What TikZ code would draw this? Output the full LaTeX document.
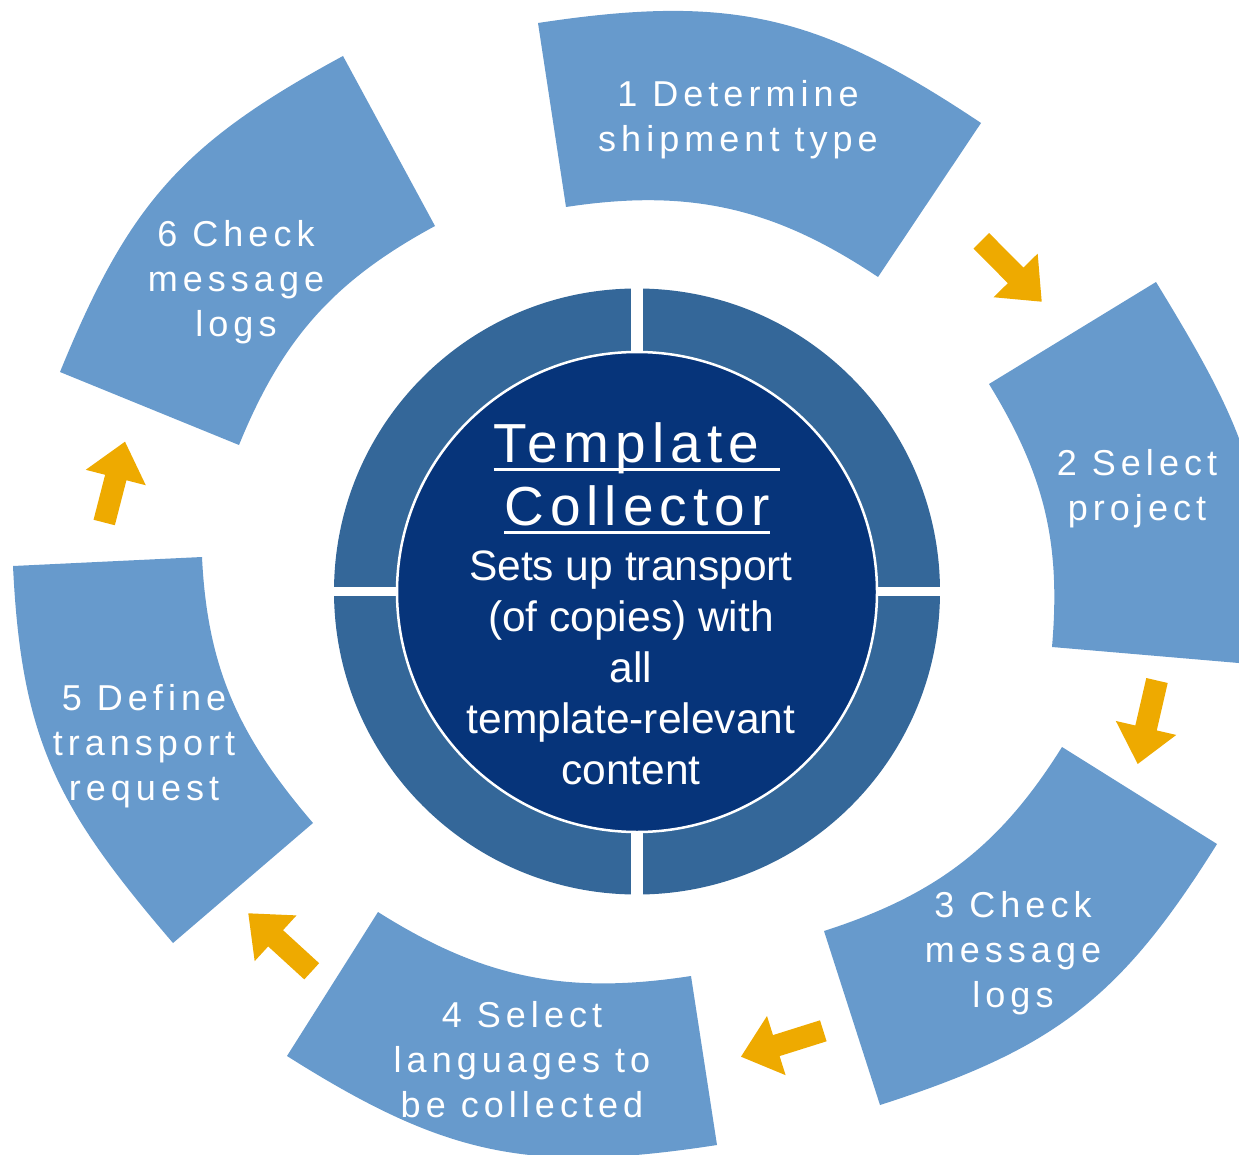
\documentclass[tikz,border=0pt]{standalone}
\usepackage{fontspec}
\setmainfont{Liberation Sans}
\newfontfamily\segfont[LetterSpace=14]{Liberation Sans}
\newfontfamily\titlefont[LetterSpace=11]{Liberation Sans}
\usetikzlibrary{calc}
\definecolor{segc}{RGB}{103,154,204}
\definecolor{ringc}{RGB}{52,103,153}
\definecolor{innerc}{RGB}{6,52,122}
\definecolor{arrowc}{RGB}{238,170,0}
\newcommand{\linestack}[1]{\vtop{\halign{\hfil##\hfil\cr#1\crcr}}}
\newcommand{\ulword}[1]{\setbox0=\hbox{#1}\rlap{\rule[-9pt]{\wd0}{3pt}}\box0}
\newcommand{\segshape}[4]{%
  \fill[segc] let \p1=($(#2)-(#1)$), \p2=($(#3)-(#4)$),
    \n1={atan2(\y1,\x1)-90}, \n2={atan2(\y2,\x2)+90} in
    (#1) -- (#2) to[out=\n1, in=\n2, looseness=1.1] (#3) -- (#4)
    to[out=\n2, in=\n1] (#1) -- cycle;}
\newcommand{\blockarrow}[2]{%
  \coordinate (#2h) at ($(#2)!37pt!(#1)$);
  \fill[arrowc] ($(#1)!11pt!90:(#2)$) -- ($(#2h)!11pt!90:(#2)$)
    -- ($(#2h)!31pt!90:(#2)$) -- (#2) -- ($(#2h)!31pt!-90:(#2)$)
    -- ($(#2h)!11pt!-90:(#2)$) -- ($(#1)!11pt!-90:(#2)$) -- cycle;}
\tikzset{
  segtext/.style={text=white, font=\segfont\fontsize{36}{45}\selectfont, anchor=base, inner sep=0pt},
  titletext/.style={text=white, font=\titlefont\fontsize{55}{63}\selectfont, anchor=base, inner sep=0pt},
  subtext/.style={text=white, font=\fontsize{42.5}{51}\selectfont, anchor=base, inner sep=0pt},
  hubstyle/.style={circle, fill=innerc, draw=white, line width=2.5pt, minimum size=480pt, inner sep=0pt}
}
\begin{document}
\begin{tikzpicture}[x=1pt,y=1pt]
\useasboundingbox (0,0) rectangle (1239,-1155);
\clip (0,0) rectangle (1239,-1155);
% outer segments (inner start, outer start, outer end, inner end)
\coordinate (s1a) at (566,-207);  \coordinate (s1b) at (538,-23);
\coordinate (s1c) at (981,-123);  \coordinate (s1d) at (878,-277);
\coordinate (s2a) at (989,-384);  \coordinate (s2b) at (1156,-282);
\coordinate (s2c) at (1262,-665); \coordinate (s2d) at (1052,-647);
\coordinate (s3a) at (1062,-747); \coordinate (s3b) at (1217,-844);
\coordinate (s3c) at (880,-1105); \coordinate (s3d) at (824,-931);
\coordinate (s4a) at (691,-976);  \coordinate (s4b) at (717,-1145);
\coordinate (s4c) at (287,-1056); \coordinate (s4d) at (378,-912);
\coordinate (s5a) at (313,-823);  \coordinate (s5b) at (173,-943);
\coordinate (s5c) at (13,-566);   \coordinate (s5d) at (202,-557);
\coordinate (s6a) at (239,-445);  \coordinate (s6b) at (60,-372);
\coordinate (s6c) at (343,-56);   \coordinate (s6d) at (435,-226);
\segshape{s1a}{s1b}{s1c}{s1d}
\segshape{s2a}{s2b}{s2c}{s2d}
\segshape{s3a}{s3b}{s3c}{s3d}
\segshape{s4a}{s4b}{s4c}{s4d}
\segshape{s5a}{s5b}{s5c}{s5d}
\segshape{s6a}{s6b}{s6c}{s6d}
% arrows
\coordinate (a1t) at (981.3,-240.8);  \coordinate (a1p) at (1041.7,-301.7);
\coordinate (a2t) at (1157,-680.5);   \coordinate (a2p) at (1137.7,-764);
\coordinate (a3t) at (823.3,-1030.8); \coordinate (a3p) at (741,-1056.7);
\coordinate (a4t) at (311.7,-971.3);  \coordinate (a4p) at (248.3,-913.3);
\coordinate (a5t) at (104.2,-522.5);  \coordinate (a5p) at (125,-441.7);
\blockarrow{a1t}{a1p}
\blockarrow{a2t}{a2p}
\blockarrow{a3t}{a3p}
\blockarrow{a4t}{a4p}
\blockarrow{a5t}{a5p}
% central ring
\coordinate (ctr) at (637,-591.5);
\fill[ringc] (ctr) circle[radius=303];
\fill[white] (631,-280) rectangle (642.5,-900);
\fill[white] (325,-587) rectangle (950,-596);
\node[hubstyle] (hub) at (637,-592) {};
% texts
\node[titletext] (title) at (637,-462) {\linestack{\ulword{Template\ }\cr\ulword{Collector}}};
\node[subtext] (desc) at (631,-580) {\linestack{Sets up transport\cr (of copies) with\cr all\cr template-relevant\cr content}};
\node[segtext] (t1) at (738,-107) {\linestack{1 Determine\cr shipment type}};
\node[segtext] (t2) at (1137,-475) {\linestack{2 Select\cr project}};
\node[segtext] (t3) at (1013,-917) {\linestack{3 Check\cr message\cr logs}};
\node[segtext] (t4) at (522,-1027) {\linestack{4 Select\cr languages to\cr be collected}};
\node[segtext] (t5) at (144,-710) {\linestack{5 Define\cr transport\cr request}};
\node[segtext] (t6) at (236,-247) {\linestack{6 Check\cr message\cr logs}};
\end{tikzpicture}
\end{document}
